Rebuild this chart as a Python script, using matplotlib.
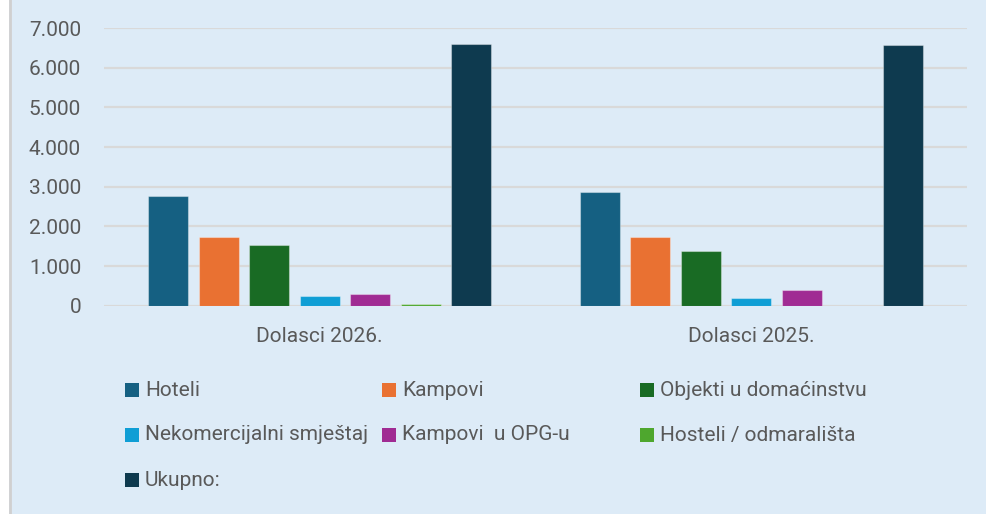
import matplotlib
matplotlib.use("Agg")
import matplotlib.pyplot as plt
from matplotlib.patches import Rectangle
from matplotlib.lines import Line2D
from matplotlib.ticker import FuncFormatter

categories = ["Dolasci 2026.", "Dolasci 2025."]
series_names = ["Hoteli", "Kampovi", "Objekti u domaćinstvu", "Nekomercijalni smještaj",
                "Kampovi  u OPG-u", "Hosteli / odmarališta", "Ukupno:"]
series_values = [
    [2765, 2870],   # Hoteli
    [1725, 1730],   # Kampovi
    [1520, 1380],   # Objekti u domaćinstvu
    [237, 186],     # Nekomercijalni smještaj
    [295, 388],     # Kampovi u OPG-u
    [45, 0],        # Hosteli / odmarališta
    [6592, 6568],   # Ukupno
]
colors = ["#156082", "#E97132", "#196B24", "#0F9ED5", "#A02B93", "#4EA72E", "#0E3A4F"]
y_ticks = [0, 1000, 2000, 3000, 4000, 5000, 6000, 7000]

plt.rcParams['font.family'] = ['Roboto', 'DejaVu Sans']
TXT = "#595959"
BG = "#DDEBF7"

W, H = 986, 514
fig = plt.figure(figsize=(W / 100, H / 100), dpi=100)
fig.patch.set_facecolor("white")
fig.patches.append(Rectangle((9 / W, 0), 1, 1, transform=fig.transFigure,
                             facecolor=BG, edgecolor="none", zorder=-10))
fig.lines.append(Line2D([9.5 / W, 9.5 / W], [0, 1], transform=fig.transFigure,
                        color="#D0D0D0", lw=2, zorder=-5))

ax = fig.add_axes([104 / W, (H - 305.7) / H, (967 - 104) / W, 277.7 / H])
ax.set_facecolor("none")

n = len(series_names)
slot = 0.117
bw = 0.0926
for i, (name, vals, c) in enumerate(zip(series_names, series_values, colors)):
    xs = [k + (i - (n - 1) / 2) * slot for k in range(len(categories))]
    ax.bar(xs, vals, width=bw, color=c, edgecolor=(1, 1, 1, 0.35), linewidth=0.8,
           label=name, zorder=3)

ax.set_xlim(-0.5, len(categories) - 0.5)
ax.set_ylim(0, 7000)
ax.set_yticks(y_ticks)
ax.yaxis.set_major_formatter(FuncFormatter(lambda v, p: f"{int(v):,}".replace(",", ".")))
ax.set_xticks(range(len(categories)))
ax.set_xticklabels(categories)
ax.tick_params(axis="both", length=0, labelsize=15, labelcolor=TXT)
ax.tick_params(axis="y", pad=16.5)
ax.tick_params(axis="x", pad=15)
ax.grid(axis="y", color="#D9D9D9", lw=1.6, zorder=0)
for s in ax.spines.values():
    s.set_visible(False)

# legend, laid out in a 3-column grid as in the original
col_x = [125, 382, 640]
row_y = [390, 435, 480]
for i, (name, c) in enumerate(zip(series_names, colors)):
    r, col = divmod(i, 3)
    x0 = col_x[col]
    yc = row_y[r]
    fig.patches.append(Rectangle((x0 / W, (H - yc - 7) / H), 14 / W, 14 / H,
                                 transform=fig.transFigure, facecolor=c, edgecolor="none"))
    fig.text((x0 + 20) / W, (H - yc) / H, name, fontsize=15, color=TXT,
             va="center", ha="left")

fig.savefig("out.png", dpi=100, facecolor=fig.get_facecolor())
